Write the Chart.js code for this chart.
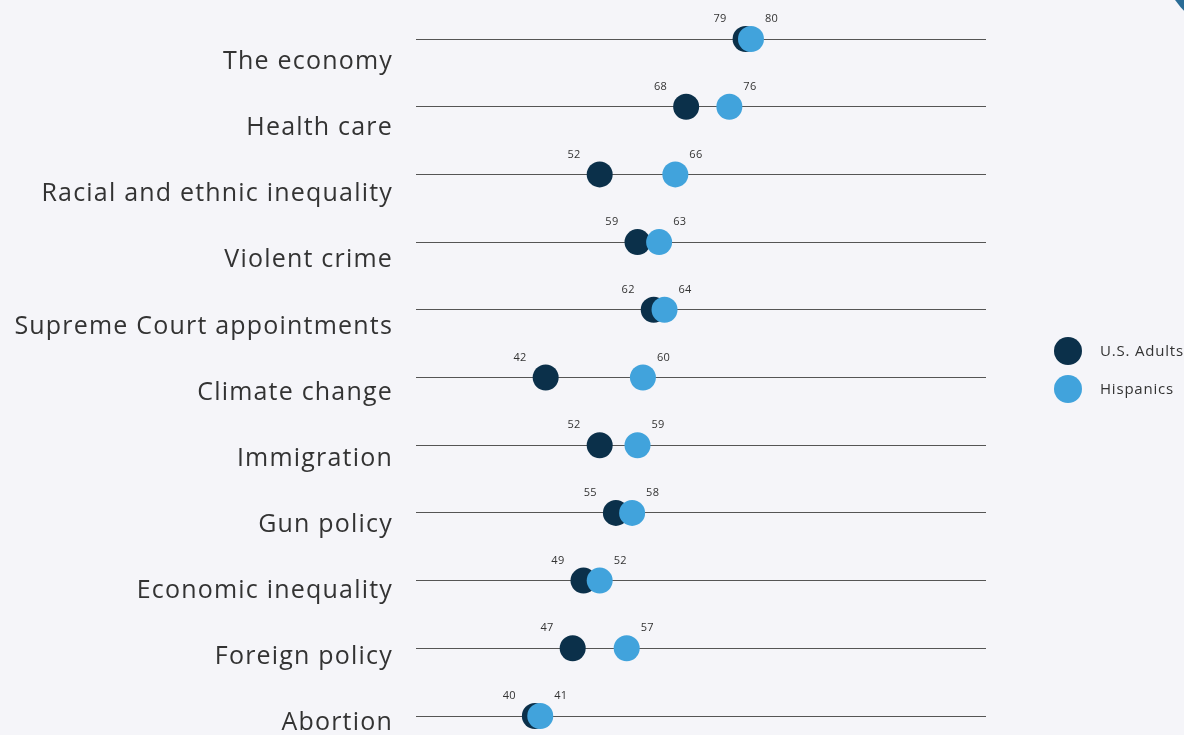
<!DOCTYPE html>
<html>
<head>
<meta charset="utf-8">
<script src="https://cdn.jsdelivr.net/npm/chart.js@4.4.0/dist/chart.umd.min.js"></script>
<style>
  html, body { margin: 0; padding: 0; background: #f5f5f9; overflow: hidden; }
  #wrap { position: relative; width: 1184px; height: 735px; }
  #corner { position: absolute; left: 1156px; top: -164px; width: 208px; height: 208px; border-radius: 50%; background: #2a6c96; }
</style>
</head>
<body>
<div id="wrap">
  <canvas id="chart" width="1184" height="735"></canvas>
  <div id="corner"></div>
</div>
<script>
const categories = ['The economy', 'Health care', 'Racial and ethnic inequality', 'Violent crime',
  'Supreme Court appointments', 'Climate change', 'Immigration', 'Gun policy',
  'Economic inequality', 'Foreign policy', 'Abortion']
const usAdults = [79, 68, 52, 59, 62, 42, 52, 55, 49, 47, 40]
const hispanics = [80, 76, 66, 63, 64, 60, 59, 58, 52, 57, 41]
const seriesNames = ['U.S. Adults', 'Hispanics']
const seriesColors = ['#0b304a', '#41a3dc']

const textFont = "'Open Sans', sans-serif"

// value labels, category names and legend are drawn by hand
const dotLabels = {
  id: 'dotLabels',
  afterDatasetsDraw(chart) {
    const ctx = chart.ctx
    ctx.save()
    ctx.font = '11px ' + textFont
    ctx.letterSpacing = '0.3px'
    ctx.fillStyle = '#333'
    ctx.textBaseline = 'middle'
    chart.data.datasets.forEach((ds, di) => {
      chart.getDatasetMeta(di).data.forEach((pt, i) => {
        const dark = di === 0
        ctx.textAlign = dark ? 'right' : 'left'
        ctx.fillText(ds.data[i].x, pt.x + (dark ? -19 : 14), pt.y - 20)
      })
    })
    ctx.restore()
  },
  afterDraw(chart) {
    const ctx = chart.ctx
    const area = chart.chartArea
    ctx.save()
    ctx.font = '25px ' + textFont
    ctx.letterSpacing = '1.2px'
    ctx.fillStyle = '#333'
    ctx.textAlign = 'right'
    ctx.textBaseline = 'middle'
    categories.forEach((c, i) => {
      ctx.fillText(c, area.left - 23, area.top + 23 + i * 66.1)
    })
    // legend
    ctx.font = '15px ' + textFont
    ctx.letterSpacing = '0.8px'
    ctx.textAlign = 'left'
    seriesNames.forEach((name, i) => {
      const y = 351 + i * 38
      ctx.beginPath()
      ctx.arc(1068, y, 14, 0, Math.PI * 2)
      ctx.fillStyle = seriesColors[i]
      ctx.fill()
      ctx.fillStyle = '#333'
      ctx.fillText(name, 1100, y + 1)
    })
    ctx.restore()
  }
}

new Chart(document.getElementById('chart').getContext('2d'), {
  type: 'scatter',
  data: {
    datasets: [usAdults, hispanics].map((vals, s) => ({
      label: seriesNames[s],
      data: vals.map((v, i) => ({ x: v, y: categories[i] })),
      backgroundColor: seriesColors[s],
      borderWidth: 0,
      pointRadius: 13,
      pointHoverRadius: 13,
      order: 2 - s,
      clip: false
    }))
  },
  options: {
    responsive: false,
    animation: false,
    layout: { padding: { left: 416, right: 198, top: 39, bottom: 19 } },
    plugins: { legend: { display: false }, tooltip: { enabled: false } },
    scales: {
      x: { type: 'linear', min: 18, max: 123.5, display: false },
      y: {
        type: 'category',
        labels: categories,
        offset: false,
        grid: { color: '#555', lineWidth: 1, drawTicks: false },
        border: { display: false },
        ticks: { display: false },
        afterFit: s => { s.width = 0 }
      }
    }
  },
  plugins: [dotLabels]
})
</script>
</body>
</html>
